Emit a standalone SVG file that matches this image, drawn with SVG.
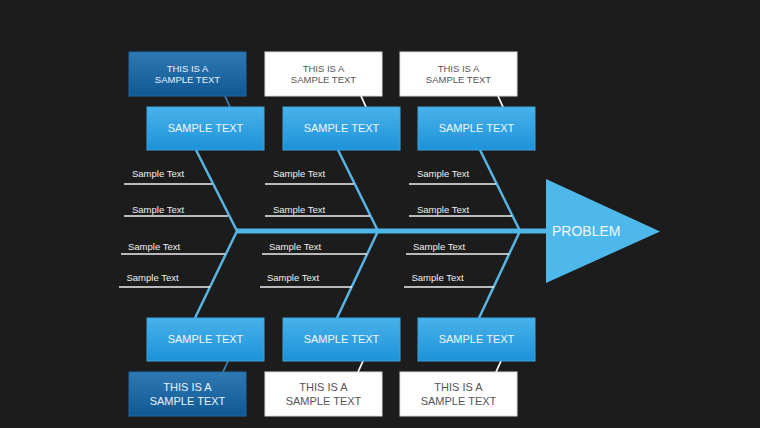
<svg xmlns="http://www.w3.org/2000/svg" width="760" height="428" viewBox="0 0 760 428">
<defs>
<linearGradient id="gBlue" x1="0" y1="0" x2="0" y2="1"><stop offset="0" stop-color="#48b2ea"/><stop offset="1" stop-color="#1d92d9"/></linearGradient>
<linearGradient id="gDark" x1="0" y1="0" x2="0" y2="1"><stop offset="0" stop-color="#2f79b3"/><stop offset="1" stop-color="#0f5894"/></linearGradient>
<style>
.bx{fill:url(#gBlue);stroke:#3aa3df;stroke-width:1}
.dk{fill:url(#gDark);stroke:#1d6aa6;stroke-width:1}
.wh{fill:#ffffff;stroke:#dddddd;stroke-width:1}
.t{font-family:"Liberation Sans",Arial,sans-serif;text-anchor:middle}
.bt{font-size:11px;fill:#eef8ff}
.nt{font-size:9.5px}
.nb{font-size:11px}
.tw{fill:#e8f2fb}
.tg{fill:#555555}
.st{font-family:"Liberation Sans",Arial,sans-serif;font-size:9.5px;fill:#f0f0f0}
.bone{stroke:#58b4e4;stroke-width:2.5;fill:none}
.lead{stroke:#eeeeee;stroke-width:1.6}
.nl{stroke-width:1.8}
</style>
</defs>
<rect width="760" height="428" fill="#1c1c1c"/>
<g id="connectors">
<line x1="236" y1="231" x2="548" y2="231" stroke="#4fb6ea" stroke-width="5"/>
<polyline class="bone" points="196,150 237,231 195,318"/>
<polyline class="bone" points="338,150 378,231 337,318"/>
<polyline class="bone" points="480,150 520,231 479,318"/>
<line class="nl" x1="225" y1="96" x2="230" y2="107" stroke="#3f80b0"/>
<line class="nl" x1="361" y1="96" x2="366" y2="107" stroke="#ffffff"/>
<line class="nl" x1="498" y1="96" x2="503" y2="107" stroke="#ffffff"/>
<line class="nl" x1="228" y1="361" x2="223" y2="372" stroke="#3f80b0"/>
<line class="nl" x1="363" y1="361" x2="358" y2="372" stroke="#ffffff"/>
<line class="nl" x1="501" y1="361" x2="496" y2="372" stroke="#ffffff"/>
<line class="lead" x1="124" y1="184" x2="212" y2="184"/>
<line class="lead" x1="124" y1="216" x2="228" y2="216"/>
<line class="lead" x1="121" y1="254" x2="225" y2="254"/>
<line class="lead" x1="119" y1="287" x2="210" y2="287"/>
<line class="lead" x1="265" y1="184" x2="354" y2="184"/>
<line class="lead" x1="265" y1="216" x2="370" y2="216"/>
<line class="lead" x1="262" y1="254" x2="367" y2="254"/>
<line class="lead" x1="260" y1="287" x2="352" y2="287"/>
<line class="lead" x1="409" y1="184" x2="496" y2="184"/>
<line class="lead" x1="409" y1="216" x2="512" y2="216"/>
<line class="lead" x1="406" y1="254" x2="509" y2="254"/>
<line class="lead" x1="404" y1="287" x2="494" y2="287"/>
</g>
<g id="labels">
<text class="st" x="132" y="177">Sample Text</text>
<text class="st" x="132" y="213">Sample Text</text>
<text class="st" x="128" y="250">Sample Text</text>
<text class="st" x="126.5" y="281">Sample Text</text>
<text class="st" x="273" y="177">Sample Text</text>
<text class="st" x="273" y="213">Sample Text</text>
<text class="st" x="269" y="250">Sample Text</text>
<text class="st" x="267" y="281">Sample Text</text>
<text class="st" x="417" y="177">Sample Text</text>
<text class="st" x="417" y="213">Sample Text</text>
<text class="st" x="413" y="250">Sample Text</text>
<text class="st" x="411.5" y="281">Sample Text</text>
</g>
<g id="problem">
<polygon points="546,179 546,283 660,231.5" fill="#4fb8ea"/>
<text x="552" y="236" font-family="Liberation Sans, Arial, sans-serif" font-size="14" fill="#eef8ff">PROBLEM</text>
</g>
<g id="note-top-1"><rect class="dk" x="129" y="52" width="117" height="44"/><text class="t nt tw" x="187.5" y="71.5">THIS IS A</text><text class="t nt tw" x="187.5" y="82.5">SAMPLE TEXT</text></g>
<g id="note-top-2"><rect class="wh" x="265" y="52" width="117" height="44"/><text class="t nt tg" x="323.5" y="71.5">THIS IS A</text><text class="t nt tg" x="323.5" y="82.5">SAMPLE TEXT</text></g>
<g id="note-top-3"><rect class="wh" x="400" y="52" width="117" height="44"/><text class="t nt tg" x="458.5" y="71.5">THIS IS A</text><text class="t nt tg" x="458.5" y="82.5">SAMPLE TEXT</text></g>
<g id="cause-top-1"><rect class="bx" x="147" y="107" width="117" height="43"/><text class="t bt" x="205.5" y="132">SAMPLE TEXT</text></g>
<g id="cause-top-2"><rect class="bx" x="283" y="107" width="117" height="43"/><text class="t bt" x="341.5" y="132">SAMPLE TEXT</text></g>
<g id="cause-top-3"><rect class="bx" x="418" y="107" width="117" height="43"/><text class="t bt" x="476.5" y="132">SAMPLE TEXT</text></g>
<g id="cause-bot-1"><rect class="bx" x="147" y="318" width="117" height="43"/><text class="t bt" x="205.5" y="343">SAMPLE TEXT</text></g>
<g id="cause-bot-2"><rect class="bx" x="283" y="318" width="117" height="43"/><text class="t bt" x="341.5" y="343">SAMPLE TEXT</text></g>
<g id="cause-bot-3"><rect class="bx" x="418" y="318" width="117" height="43"/><text class="t bt" x="476.5" y="343">SAMPLE TEXT</text></g>
<g id="note-bot-1"><rect class="dk" x="129" y="372" width="117" height="44"/><text class="t nb tw" x="187.5" y="390.5">THIS IS A</text><text class="t nb tw" x="187.5" y="404.5">SAMPLE TEXT</text></g>
<g id="note-bot-2"><rect class="wh" x="265" y="372" width="117" height="44"/><text class="t nb tg" x="323.5" y="390.5">THIS IS A</text><text class="t nb tg" x="323.5" y="404.5">SAMPLE TEXT</text></g>
<g id="note-bot-3"><rect class="wh" x="400" y="372" width="117" height="44"/><text class="t nb tg" x="458.5" y="390.5">THIS IS A</text><text class="t nb tg" x="458.5" y="404.5">SAMPLE TEXT</text></g>
</svg>
